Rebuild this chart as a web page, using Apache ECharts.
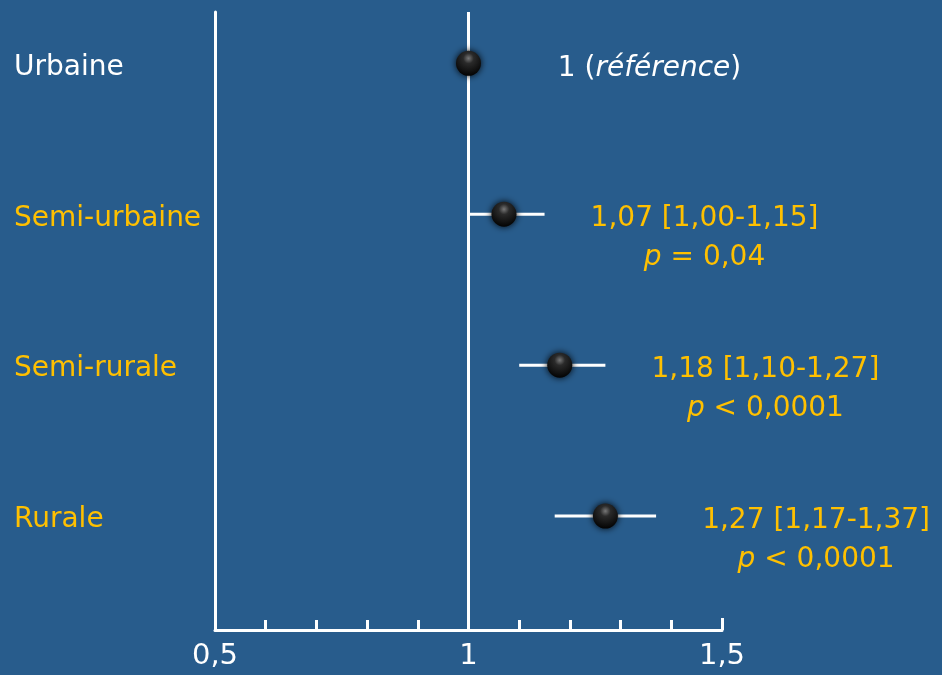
<!DOCTYPE html>
<html><head><meta charset="utf-8">
<script src="https://cdn.jsdelivr.net/npm/echarts@6/dist/echarts.min.js"></script>
<style>html,body{margin:0;padding:0;background:#285c8c;}#c{width:942px;height:675px;}</style>
</head><body><div id="c"></div>
<script>
const categories = ['Urbaine', 'Semi-urbaine', 'Semi-rurale', 'Rurale'];
const rowIndex = [3, 2, 1, 0];
const hr = [1, 1.07, 1.18, 1.27];
const ciLow = [null, 1.00, 1.10, 1.17];
const ciHigh = [null, 1.15, 1.27, 1.37];
const hrText = ['1', '1,07 [1,00-1,15]', '1,18 [1,10-1,27]', '1,27 [1,17-1,37]'];
const pText = [null, '= 0,04', '< 0,0001', '< 0,0001'];
const xTicks = [0.5, 1, 1.5];

const WHITE = '#ffffff', YELLOW = '#ffc000', FONT = 'DejaVu Sans', FS = 28;
const chart = echarts.init(document.getElementById('c'));

const points = hr.map((v, i) => [v, rowIndex[i]]);
const bars = hr.map((v, i) => ciLow[i] == null ? null : [ciLow[i], ciHigh[i], rowIndex[i]]).filter(d => d);
const leftLabels = categories.map((c, i) => ({value: [xTicks[0], rowIndex[i]], name: c,
  label: {color: i === 0 ? WHITE : YELLOW}}));
const rightLabels = hr.map((v, i) => i === 0 ? null : {value: [ciHigh[i], rowIndex[i]], name: hrText[i], p: pText[i]}).filter(d => d);
const hidden = {color: 'rgba(0,0,0,0)', opacity: 1};

chart.setOption({
  backgroundColor: '#285c8c',
  animation: false,
  grid: {left: 215, right: 220, top: 12, bottom: 45},
  xAxis: {
    type: 'value', min: 0.5, max: 1.5, interval: 0.5,
    axisLine: {show: true, onZero: false, lineStyle: {color: WHITE, width: 3}},
    axisTick: {show: true, inside: true, length: 12, lineStyle: {color: WHITE, width: 3}},
    minorTick: {show: true, splitNumber: 5, length: 10, lineStyle: {color: WHITE, width: 3}},
    splitLine: {show: false},
    axisLabel: {color: WHITE, fontFamily: FONT, fontSize: 29, margin: 12,
      formatter: v => String(v).replace('.', ',')}
  },
  yAxis: {
    type: 'value', min: -0.755, max: 3.34,
    axisLine: {show: true, onZero: false, lineStyle: {color: WHITE, width: 3}},
    axisTick: {show: false}, axisLabel: {show: false}, splitLine: {show: false}
  },
  series: [
    {
      type: 'custom', z: 2,
      data: bars,
      renderItem: (params, api) => {
        const a = api.coord([api.value(0), api.value(2)]);
        const b = api.coord([api.value(1), api.value(2)]);
        return {type: 'line', shape: {x1: a[0], y1: a[1], x2: b[0], y2: b[1]},
          style: {stroke: WHITE, lineWidth: 3}};
      },
      markLine: {
        silent: true, symbol: 'none', label: {show: false},
        lineStyle: {color: WHITE, width: 3, type: 'solid'},
        data: [{xAxis: 1}]
      }
    },
    {
      type: 'scatter', z: 5, data: points, symbol: 'circle', symbolSize: 25,
      itemStyle: {
        opacity: 1,
        color: {type: 'radial', x: 0.5, y: 0.3, r: 0.7, colorStops: [
          {offset: 0, color: '#777777'}, {offset: 0.3, color: '#2a2a2a'}, {offset: 1, color: '#030303'}]},
        shadowBlur: 7, shadowColor: 'rgba(0,0,0,0.95)'
      }
    },
    {
      type: 'scatter', z: 6, data: leftLabels, symbolSize: 1,
      itemStyle: hidden,
      label: {show: true, position: 'inside', align: 'left', verticalAlign: 'middle', offset: [-201, 4],
        fontFamily: FONT, fontSize: FS, formatter: p => p.name}
    },
    {
      type: 'scatter', z: 6, data: [{value: points[0], name: hrText[0]}], symbolSize: 1,
      itemStyle: hidden,
      label: {show: true, position: 'inside', align: 'center', verticalAlign: 'middle', offset: [181, 5],
        fontFamily: FONT, fontSize: FS, color: WHITE,
        formatter: p => p.name + ' ({i|référence})',
        rich: {i: {fontStyle: 'italic', fontFamily: FONT, fontSize: FS, color: WHITE}}}
    },
    {
      type: 'scatter', z: 6, data: rightLabels, symbolSize: 1,
      itemStyle: hidden,
      label: {show: true, position: 'inside', align: 'center', verticalAlign: 'top', offset: [160, -15],
        fontFamily: FONT, fontSize: FS, color: YELLOW, lineHeight: 39,
        formatter: p => p.data.name + '\n{i|p} ' + p.data.p,
        rich: {i: {fontStyle: 'italic', fontFamily: FONT, fontSize: FS, color: YELLOW, lineHeight: 39}}}
    }
  ]
});
</script></body></html>
